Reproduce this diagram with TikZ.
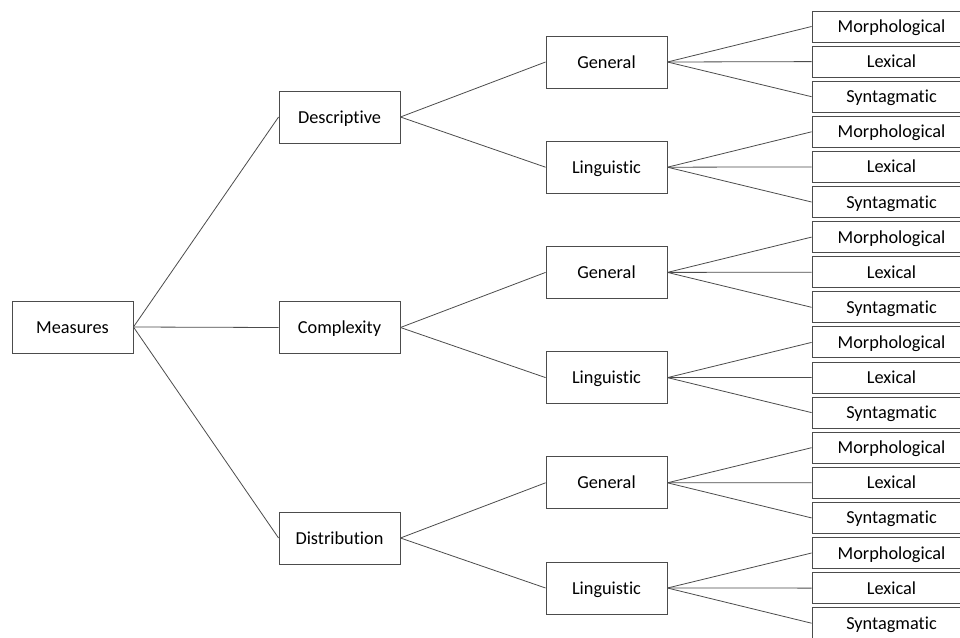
\documentclass[tikz,border=0pt]{standalone}
\usepackage{fontspec}
\setmainfont{Carlito}[RawFeature={-liga}]
\begin{document}
\begin{tikzpicture}[x=1pt,y=-1pt,
  box/.style={draw=black!70,line width=0.9pt,fill=white,minimum width=121pt,minimum height=52pt,inner sep=0pt,text height=12pt,text depth=0pt,font=\fontsize{18.3}{20}\selectfont,text=black},
  leaf/.style={draw=black!70,line width=0.9pt,fill=white,minimum width=159pt,minimum height=31pt,inner sep=0pt,text height=12pt,text depth=0pt,font=\fontsize{18.3}{20}\selectfont,text=black},
  link/.style={draw=black!70,line width=0.8pt}]
\clip (0,0) rectangle (960,637);
\fill[white] (0,0) rectangle (960,637);
\node[box] (m) at (72.5,327) {Measures};
\node[box] (t0) at (339.5,117) {Descriptive};
\node[box] (t1) at (339.5,327.5) {Complexity};
\node[box] (t2) at (339.5,538) {Distribution};
\foreach \t in {0,1,2} {\draw[link] (m.east) -- (t\t.west);}
\foreach \g/\lab in {0/General,1/Linguistic,2/General,3/Linguistic,4/General,5/Linguistic} {
  \node[box] (g\g) at (606.5,{62+105.2*\g}) {\lab};
  \pgfmathtruncatemacro{\pp}{int(\g/2)}
  \draw[link] (t\pp.east) -- (g\g.west);
  \foreach \i/\leaftxt in {0/Morphological,1/Lexical,2/Syntagmatic} {
    \node[leaf] (l\g\i) at (891.5,{26.5+35.1*(3*\g+\i)}) {\leaftxt};
    \draw[link] (g\g.east) -- (l\g\i.west);
  }
}
\end{tikzpicture}
\end{document}
